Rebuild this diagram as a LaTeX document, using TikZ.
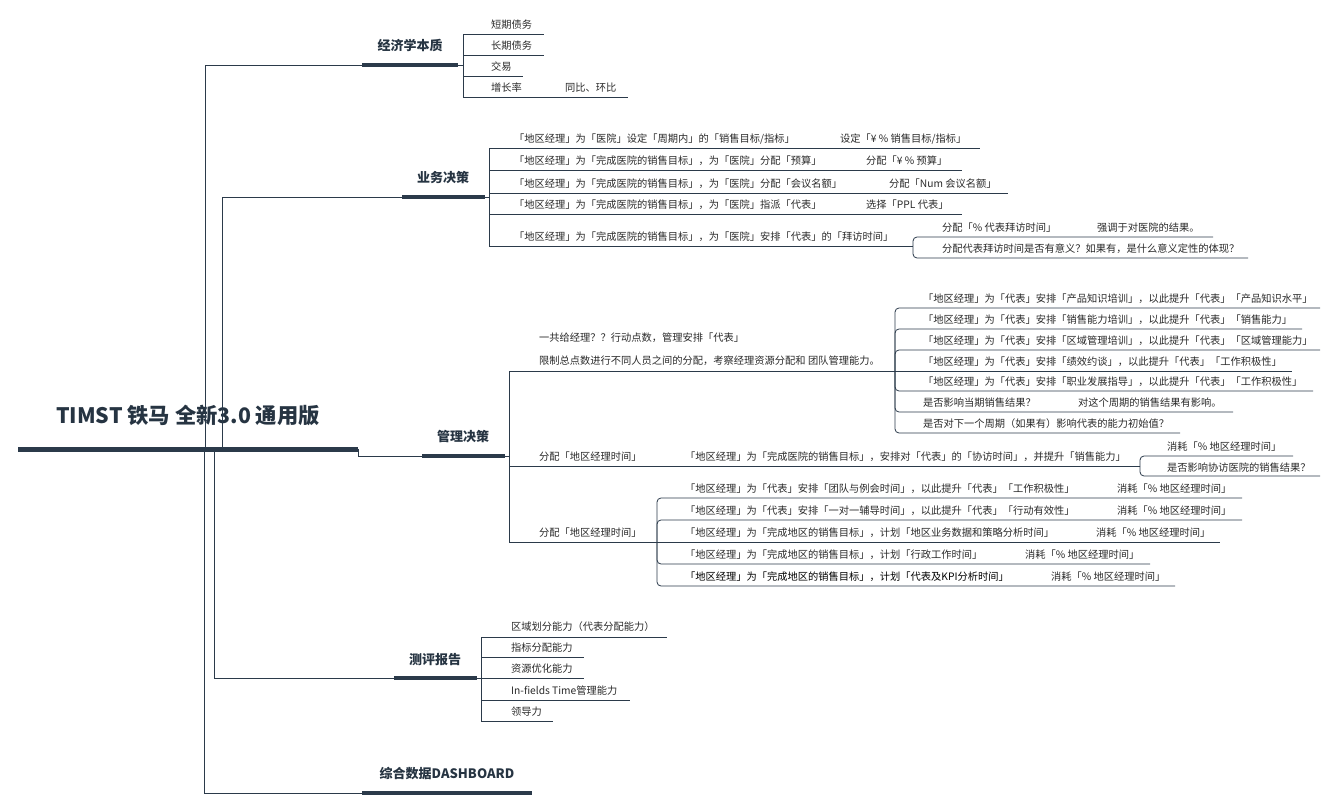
\documentclass[tikz,border=0pt]{standalone}
\usepackage{fontspec}
\setmainfont{Noto Sans CJK SC}
\definecolor{txt}{HTML}{2A2A2A}
\definecolor{ttlc}{HTML}{263442}
\definecolor{barc}{HTML}{2B3A4A}
\definecolor{lnc}{HTML}{2B3A4A}
\begin{document}
\begin{tikzpicture}[x=1pt,y=-1pt,
  leaf/.style={anchor=west,inner sep=0pt,font=\fontsize{10.25}{12}\selectfont,text=txt},
  ttl/.style={inner sep=0pt,font=\fontsize{13}{15}\selectfont\bfseries,text=ttlc},
  bar/.style={draw=barc,line width=3.5pt},
  ln/.style={draw=lnc,line width=0.8pt},
  rnd/.style={ln,rounded corners=4pt}]
\useasboundingbox[fill=white] (0,0) rectangle (1339,810);

% ---------- root ----------
\node[font=\fontsize{21.3}{24}\selectfont\bfseries,text=ttlc,inner sep=0pt] (root) at (188,415) {TIMST 铁马 全新3.0 通用版};
\coordinate (rootL) at (18,449);
\coordinate (rootR) at (358,449);
\draw[draw=barc,line width=5pt] (rootL) -- (rootR);

% ---------- 经济学本质 ----------
\node[ttl] (eco) at (410,46) {经济学本质};
\coordinate (ecoL) at (362,65);
\coordinate (ecoR) at (458,65);
\coordinate (ecoS) at (463,65);
\draw[bar] (ecoL) -- (ecoR);
\draw[ln] (205,449) |- (ecoL);
\draw[ln] (ecoR) -- (ecoS);
\node[leaf] (e1) at (491,25) {短期债务};
\node[leaf] (e2) at (491,46) {长期债务};
\node[leaf] (e3) at (491,67) {交易};
\node[leaf] (e4) at (491,88) {增长率};
\node[leaf] (e4a) at (565,88) {同比、环比};
\draw[ln] (ecoS) |- (544,34);
\draw[ln] (ecoS) |- (544,55);
\draw[ln] (ecoS) |- (523,76);
\draw[ln] (ecoS) |- (628,97);

% ---------- 业务决策 ----------
\node[ttl] (biz) at (443,178) {业务决策};
\coordinate (bizL) at (402,197);
\coordinate (bizR) at (485,197);
\coordinate (bizS) at (489,197);
\draw[bar] (bizL) -- (bizR);
\draw[ln] (222,449) |- (bizL);
\draw[ln] (bizR) -- (bizS);
\node[leaf] (b1) at (514,139) {「地区经理」为「医院」设定「周期内」的「销售目标/指标」};
\node[leaf] (b1a) at (840,139) {设定「¥ \% 销售目标/指标」};
\draw[ln] (bizS) |- (980,148);
\node[leaf] (b2) at (514,161) {「地区经理」为「完成医院的销售目标」，为「医院」分配「预算」};
\node[leaf] (b2a) at (866,161) {分配「¥ \% 预算」};
\draw[ln] (bizS) |- (962,170);
\node[leaf] (b3) at (514,184) {「地区经理」为「完成医院的销售目标」，为「医院」分配「会议名额」};
\node[leaf] (b3a) at (889,184) {分配「Num 会议名额」};
\draw[ln] (bizS) |- (1008,193);
\node[leaf] (b4) at (514,205) {「地区经理」为「完成医院的销售目标」，为「医院」指派「代表」};
\node[leaf] (b4a) at (866,205) {选择「PPL 代表」};
\draw[ln] (bizS) |- (962,214);
\node[leaf] (b5) at (514,237) {「地区经理」为「完成医院的销售目标」，为「医院」安排「代表」的「拜访时间」};
\coordinate (b5S) at (913,246);
\draw[ln] (bizS) |- (b5S);
\node[leaf] (b5a) at (942,228) {分配「\% 代表拜访时间」};
\node[leaf] (b5b) at (1097,228) {强调于对医院的结果。};
\node[leaf] (b5c) at (942,249) {分配代表拜访时间是否有意义？如果有，是什么意义定性的体现？};
\draw[rnd] (b5S) |- (1213,237);
\draw[rnd] (b5S) |- (1248,258);

% ---------- 管理决策 ----------
\node[ttl] (mgt) at (463,437) {管理决策};
\coordinate (mgtL) at (422,456);
\coordinate (mgtR) at (505,456);
\coordinate (mgtS) at (509,456);
\draw[bar] (mgtL) -- (mgtR);
\draw[ln] (rootR) |- (mgtL);
\draw[ln] (mgtR) -- (mgtS);
% A
\node[leaf] (mA1) at (539,338) {一共给经理？？行动点数，管理安排「代表」};
\node[leaf] (mA2) at (539,361) {限制总点数进行不同人员之间的分配，考察经理资源分配和 团队管理能力。};
\coordinate (mAS) at (895,371);
\draw[ln] (mgtS) |- (mAS);
\node[leaf] (a1) at (923,299) {「地区经理」为「代表」安排「产品知识培训」，以此提升「代表」「产品知识水平」};
\node[leaf] (a2) at (923,320) {「地区经理」为「代表」安排「销售能力培训」，以此提升「代表」「销售能力」};
\node[leaf] (a3) at (923,341) {「地区经理」为「代表」安排「区域管理培训」，以此提升「代表」「区域管理能力」};
\node[leaf] (a4) at (923,362) {「地区经理」为「代表」安排「绩效约谈」，以此提升「代表」「工作积极性」};
\node[leaf] (a5) at (923,382) {「地区经理」为「代表」安排「职业发展指导」，以此提升「代表」「工作积极性」};
\node[leaf] (a6) at (923,403) {是否影响当期销售结果？};
\node[leaf] (a6a) at (1078,403) {对这个周期的销售结果有影响。};
\node[leaf] (a7) at (923,424) {是否对下一个周期（如果有）影响代表的能力初始值？};
\draw[rnd] (mAS) |- (1320,308);
\draw[rnd] (mAS) |- (1302,329);
\draw[rnd] (mAS) |- (1320,350);
\draw[ln] (mAS) -- (1292,371);
\draw[rnd] (mAS) |- (1313,391);
\draw[rnd] (mAS) |- (1233,412);
\draw[rnd] (mAS) |- (1180,433);
% B
\node[leaf] (mB) at (539,457) {分配「地区经理时间」};
\node[leaf] (mB1) at (685,457) {「地区经理」为「完成医院的销售目标」，安排对「代表」的「协访时间」，并提升「销售能力」};
\coordinate (mBS) at (1140,466);
\draw[ln] (mgtS) |- (mBS);
\node[leaf] (mB1a) at (1167,447) {消耗「\% 地区经理时间」};
\node[leaf] (mB1b) at (1167,468) {是否影响协访医院的销售结果？};
\draw[rnd] (mBS) |- (1293,456);
\draw[rnd] (mBS) |- (1320,476);
% C
\node[leaf] (mC) at (539,533) {分配「地区经理时间」};
\coordinate (mCS) at (657,542);
\draw[ln] (mgtS) |- (mCS);
\node[leaf] (c1) at (685,489) {「地区经理」为「代表」安排「团队与例会时间」，以此提升「代表」「工作积极性」};
\node[leaf] (c1a) at (1117,489) {消耗「\% 地区经理时间」};
\node[leaf] (c2) at (685,511) {「地区经理」为「代表」安排「一对一辅导时间」，以此提升「代表」「行动有效性」};
\node[leaf] (c2a) at (1117,511) {消耗「\% 地区经理时间」};
\node[leaf] (c3) at (685,533) {「地区经理」为「完成地区的销售目标」，计划「地区业务数据和策略分析时间」};
\node[leaf] (c3a) at (1096,533) {消耗「\% 地区经理时间」};
\node[leaf] (c4) at (685,555) {「地区经理」为「完成地区的销售目标」，计划「行政工作时间」};
\node[leaf] (c4a) at (1025,555) {消耗「\% 地区经理时间」};
\node[leaf,text=black] (c5) at (685,577) {「地区经理」为「完成地区的销售目标」，计划「代表及KPI分析时间」};
\node[leaf] (c5a) at (1051,577) {消耗「\% 地区经理时间」};
\draw[rnd] (mCS) |- (1242,498);
\draw[rnd] (mCS) |- (1242,520);
\draw[ln] (mCS) -- (1220,542);
\draw[rnd] (mCS) |- (1150,564);
\draw[rnd] (mCS) |- (1175,586);

% ---------- 测评报告 ----------
\node[ttl] (rep) at (435,660) {测评报告};
\coordinate (repL) at (394,678);
\coordinate (repR) at (477,678);
\coordinate (repS) at (481,678);
\draw[bar] (repL) -- (repR);
\draw[ln] (214,449) |- (repL);
\draw[ln] (repR) -- (repS);
\node[leaf] (r1) at (511,627) {区域划分能力（代表分配能力）};
\node[leaf] (r2) at (511,648) {指标分配能力};
\node[leaf] (r3) at (511,669) {资源优化能力};
\node[leaf] (r4) at (511,691) {In-fields Time管理能力};
\node[leaf] (r5) at (511,712) {领导力};
\draw[ln] (repS) |- (667,637);
\draw[ln] (repS) |- (584,657);
\draw[ln] (repS) -- (584,678);
\draw[ln] (repS) |- (630,700);
\draw[ln] (repS) |- (553,721);

% ---------- 综合数据DASHBOARD ----------
\node[ttl] (dash) at (447,774) {综合数据DASHBOARD};
\coordinate (dashL) at (362,793);
\coordinate (dashR) at (532,793);
\draw[bar] (dashL) -- (dashR);
\draw[ln] (204,449) |- (dashL);
\end{tikzpicture}
\end{document}
